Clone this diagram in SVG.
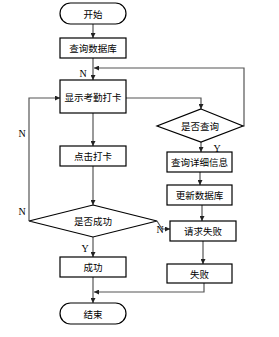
<svg xmlns="http://www.w3.org/2000/svg" width="279" height="337" viewBox="0 0 279 337">
<style>
.box{fill:#fff;stroke:#000;stroke-width:1.2}
.t{font-family:"Noto Sans CJK SC","Noto Sans CJK JP",sans-serif;font-size:9.5px;fill:#000;text-anchor:middle;dominant-baseline:central}
.lbl{font-family:"Liberation Serif",serif;font-size:10px;fill:#000;text-anchor:middle;dominant-baseline:central}
.c{fill:none;stroke:#555;stroke-width:1.2;marker-end:url(#ah)}
</style>
<defs>
<marker id="ah" viewBox="0 0 8 8" refX="8" refY="4" markerWidth="5" markerHeight="5" orient="auto" markerUnits="userSpaceOnUse">
<path d="M0,0 L8,4 L0,8 z" fill="#222"/>
</marker>
</defs>
<rect width="279" height="337" fill="#fff"/>
<g id="connectors">
<path class="c" d="M93,24 V38"/>
<path class="c" d="M93,58 V80"/>
<path class="c" d="M243,126 H244 V68 H94"/>
<path class="c" d="M126,98 H201 V109"/>
<path class="c" d="M93,113 V146"/>
<path class="c" d="M93,166 V205"/>
<path class="c" d="M29,221 V98 H60"/>
<path class="c" d="M201,142 V152"/>
<path class="c" d="M200,172 V185"/>
<path class="c" d="M202,205 V221"/>
<path class="c" d="M157,221 L162,229 H170"/>
<path class="c" d="M203,241 V264"/>
<path class="c" d="M204,283 V292 H94"/>
<path class="c" d="M93,237 V257"/>
<path class="c" d="M93,277 V303"/>
<text class="lbl" x="83" y="73">N</text>
<text class="lbl" x="22" y="133">N</text>
<text class="lbl" x="22" y="211">N</text>
<text class="lbl" x="217" y="148">Y</text>
<text class="lbl" x="160" y="229">N</text>
<text class="lbl" x="85" y="248">Y</text>
</g>
<g id="start"><rect class="box" x="60" y="3" width="66" height="21" rx="10.5"/><text class="t" x="93" y="13.5">开始</text></g>
<g id="query_db"><rect class="box" x="60" y="38" width="66" height="20"/><text class="t" x="93" y="48">查询数据库</text></g>
<g id="show"><rect class="box" x="60" y="80" width="66" height="33"/><text class="t" x="93" y="97">显示考勤打卡</text></g>
<g id="click"><rect class="box" x="60" y="146" width="66" height="20"/><text class="t" x="93" y="156">点击打卡</text></g>
<g id="is_success"><polygon class="box" points="93,205 157,221 93,237 29,221"/><text class="t" x="93" y="221">是否成功</text></g>
<g id="success"><rect class="box" x="60" y="257" width="66" height="20"/><text class="t" x="93" y="267">成功</text></g>
<g id="end"><rect class="box" x="60" y="303" width="66" height="21" rx="10.5"/><text class="t" x="93" y="313.5">结束</text></g>
<g id="is_query"><polygon class="box" points="201,109 243,126 201,142 157,126"/><text class="t" x="200" y="126">是否查询</text></g>
<g id="detail"><rect class="box" x="167" y="152" width="65" height="20"/><text class="t" x="199.5" y="162">查询详细信息</text></g>
<g id="update_db"><rect class="box" x="167" y="185" width="65" height="20"/><text class="t" x="199.5" y="195">更新数据库</text></g>
<g id="req_fail"><rect class="box" x="170" y="221" width="66" height="20"/><text class="t" x="203" y="231">请求失败</text></g>
<g id="fail"><rect class="box" x="167" y="264" width="65" height="19"/><text class="t" x="199.5" y="273.5">失败</text></g>
</svg>
